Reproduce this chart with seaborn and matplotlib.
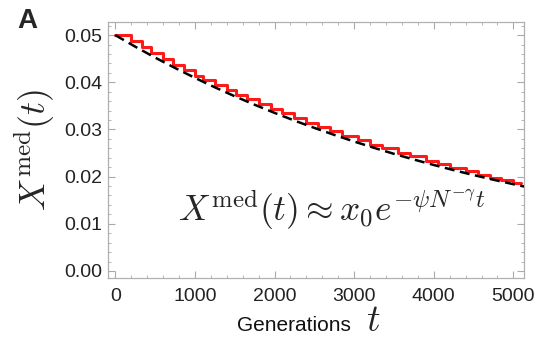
import matplotlib
matplotlib.use("Agg")
import matplotlib.pyplot as plt
import seaborn as sns
import pandas as pd
from matplotlib.ticker import MultipleLocator

# Simulated median (step curve)
step_t = [0, 200, 330, 450, 600, 720, 860, 1000, 1100, 1250, 1400, 1520, 1650,
          1800, 1950, 2100, 2250, 2400, 2550, 2700, 2850, 3050, 3200, 3350,
          3550, 3700, 3900, 4050, 4200, 4400, 4550, 4700, 4850, 5000]
step_x = [0.0500, 0.0488, 0.0474, 0.0462, 0.0450, 0.0437, 0.0426, 0.0414,
          0.0405, 0.0395, 0.0384, 0.0374, 0.0364, 0.0354, 0.0344, 0.0334,
          0.0324, 0.0314, 0.0305, 0.0296, 0.0287, 0.0277, 0.0268, 0.0260,
          0.0251, 0.0243, 0.0234, 0.0226, 0.0219, 0.0211, 0.0204, 0.0198,
          0.0192, 0.0186]

# Exponential fit (dashed)
fit_t = [0, 250, 500, 750, 1000, 1250, 1500, 1750, 2000, 2250, 2500, 2750,
         3000, 3250, 3500, 3750, 4000, 4250, 4500, 4750, 5000, 5150]
fit_x = [0.05000, 0.04756, 0.04524, 0.04304, 0.04094, 0.03894, 0.03704,
         0.03524, 0.03352, 0.03188, 0.03033, 0.02885, 0.02744, 0.02610,
         0.02483, 0.02362, 0.02247, 0.02137, 0.02033, 0.01934, 0.01839,
         0.01785]

x_ticks = [0, 1000, 2000, 3000, 4000, 5000]
y_ticks = [0.00, 0.01, 0.02, 0.03, 0.04, 0.05]
y_ticklabels = ["0.00", "0.01", "0.02", "0.03", "0.04", "0.05"]

sns.set_style("ticks")
plt.rcParams["font.family"] = ["Liberation Sans", "DejaVu Sans"]
plt.rcParams["mathtext.fontset"] = "cm"

fig = plt.figure(figsize=(5.35, 3.42), dpi=100)
ax = fig.add_axes([0.202, 0.187, 0.777, 0.749])

df_step = pd.DataFrame({"t": step_t + [5100], "x": step_x + [step_x[-1]]})
df_fit = pd.DataFrame({"t": fit_t, "x": fit_x})

sns.lineplot(data=df_step, x="t", y="x", ax=ax, color="#ff1a1a", lw=2.2,
             drawstyle="steps-post", estimator=None, sort=False, zorder=2)
sns.lineplot(data=df_fit, x="t", y="x", ax=ax, color="black", lw=1.8,
             estimator=None, sort=False, zorder=3)
ax.lines[-1].set_dashes([4, 2.2])

ax.set_xlim(-90, 5130)
ax.set_ylim(-0.0015, 0.0528)
ax.set_xticks(x_ticks)
ax.set_yticks(y_ticks)
ax.set_yticklabels(y_ticklabels)
ax.xaxis.set_minor_locator(MultipleLocator(200))
ax.yaxis.set_minor_locator(MultipleLocator(0.002))
ax.tick_params(which="both", direction="in", top=True, right=True,
               color="#aaaaaa", labelsize=14, labelcolor="#222222", pad=4)
ax.tick_params(axis="x", which="major", pad=7)
ax.tick_params(which="major", length=5, width=0.8)
ax.tick_params(which="minor", length=2.5, width=0.6)
for s in ax.spines.values():
    s.set_color("#b0b0b0")
    s.set_linewidth(0.9)
ax.set_xlabel("")
ax.set_ylabel(r"$X^{\mathrm{med}}(t)$", fontsize=26, labelpad=5)

fig.text(0.655, 0.032, "Generations", fontsize=15, ha="right", va="baseline",
         color="#111111")
fig.text(0.684, 0.032, r"$t$", fontsize=27, ha="left", va="baseline")

ax.text(0.538, 0.266, r"$X^{\mathrm{med}}(t) \approx x_0 e^{-\psi N^{-\gamma} t}$",
        transform=ax.transAxes, fontsize=25.5, ha="center", va="center")

fig.text(0.032, 0.918, "A", fontsize=20, fontweight="bold", ha="left", va="baseline")

fig.savefig("out.png", dpi=100)
